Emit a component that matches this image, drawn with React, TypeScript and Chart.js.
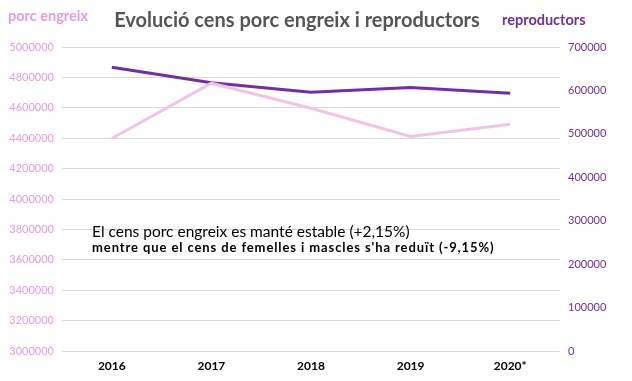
import React, { useEffect, useRef } from "react";
import { Chart, registerables } from "chart.js";

Chart.register(...registerables);

const categories = ["2016", "2017", "2018", "2019", "2020*"];
const porcEngreix = [4398000, 4762000, 4597000, 4411000, 4492000];
const reproductors = [653300, 617500, 595800, 607000, 593500];

const titleText = "Evolució cens porc engreix i reproductors";
const leftLabel = "porc engreix";
const rightLabel = "reproductors";
const noteLine1 = "El cens porc engreix es manté estable (+2,15%)";
const noteLine2 = "mentre que el cens de femelles i mascles s'ha reduït (-9,15%)";

const PINK_LINE = "#f2c3e7";
const PINK_TEXT = "#e59ddc";
const PURPLE = "#7030a0";
const FONT = "Lato, 'Open Sans', sans-serif";

const textPlugin = {
  id: "texts",
  afterDraw(chart: any) {
    const ctx = chart.ctx;
    ctx.save();
    ctx.textBaseline = "middle";
    ctx.textAlign = "left";
    ctx.font = `bold 14.5px ${FONT}`;
    ctx.fillStyle = PINK_TEXT;
    ctx.fillText(leftLabel, 8, 16);
    ctx.fillStyle = PURPLE;
    ctx.fillText(rightLabel, 502, 20);
    ctx.font = `bold 20px ${FONT}`;
    ctx.fillStyle = "#555555";
    ctx.textAlign = "center";
    ctx.fillText(titleText, 297, 21);
    ctx.textAlign = "left";
    ctx.fillStyle = "#000000";
    ctx.font = `15.5px ${FONT}`;
    ctx.fillText(noteLine1, 92, 232);
    ctx.font = `bold 13px ${FONT}`;
    (ctx as any).letterSpacing = "0.9px";
    ctx.fillText(noteLine2, 92, 248);
    (ctx as any).letterSpacing = "0px";
    ctx.restore();
  },
};

const plain = (v: any) => String(v);

export default function App() {
  const ref = useRef<HTMLCanvasElement>(null);
  useEffect(() => {
    if (!ref.current) return;
    const chart = new Chart(ref.current, {
      type: "line",
      data: {
        labels: categories,
        datasets: [
          {
            label: leftLabel,
            data: porcEngreix,
            borderColor: PINK_LINE,
            backgroundColor: PINK_LINE,
            borderWidth: 3,
            pointRadius: 0,
            tension: 0,
            yAxisID: "y",
          },
          {
            label: rightLabel,
            data: reproductors,
            borderColor: PURPLE,
            backgroundColor: PURPLE,
            borderWidth: 3,
            pointRadius: 0,
            tension: 0,
            yAxisID: "y1",
          },
        ],
      },
      options: {
        responsive: false,
        animation: false,
        layout: { padding: { top: 47, left: 0, right: 0, bottom: 8 } },
        plugins: {
          legend: { display: false },
          title: { display: false },
          tooltip: { enabled: false },
        },
        scales: {
          x: {
            offset: true,
            grid: { display: false },
            border: { display: false },
            ticks: {
              color: "#000000",
              font: { family: FONT, size: 12, weight: "bold" },
              padding: 0,
            },
            afterFit: (s: any) => {
              s.height = 22;
            },
          },
          y: {
            position: "left",
            min: 3000000,
            max: 5000000,
            grid: { color: "#d9d9d9", lineWidth: 1, drawTicks: false },
            border: { display: false },
            ticks: {
              stepSize: 200000,
              color: PINK_TEXT,
              font: { family: FONT, size: 11 },
              padding: 8,
              callback: plain,
            },
            afterFit: (s: any) => {
              s.width = 62;
            },
          },
          y1: {
            position: "right",
            min: 0,
            max: 700000,
            grid: { display: false, drawTicks: false },
            border: { display: false },
            ticks: {
              stepSize: 100000,
              color: PURPLE,
              font: { family: FONT, size: 11 },
              padding: 8,
              callback: plain,
            },
            afterFit: (s: any) => {
              s.width = 72;
            },
          },
        },
      },
      plugins: [textPlugin],
    });
    return () => chart.destroy();
  }, []);
  return (
    <div style={{ position: "fixed", left: 0, top: 0, width: 632, height: 381, background: "#fff" }}>
      <canvas ref={ref} width={632} height={381} />
    </div>
  );
}
